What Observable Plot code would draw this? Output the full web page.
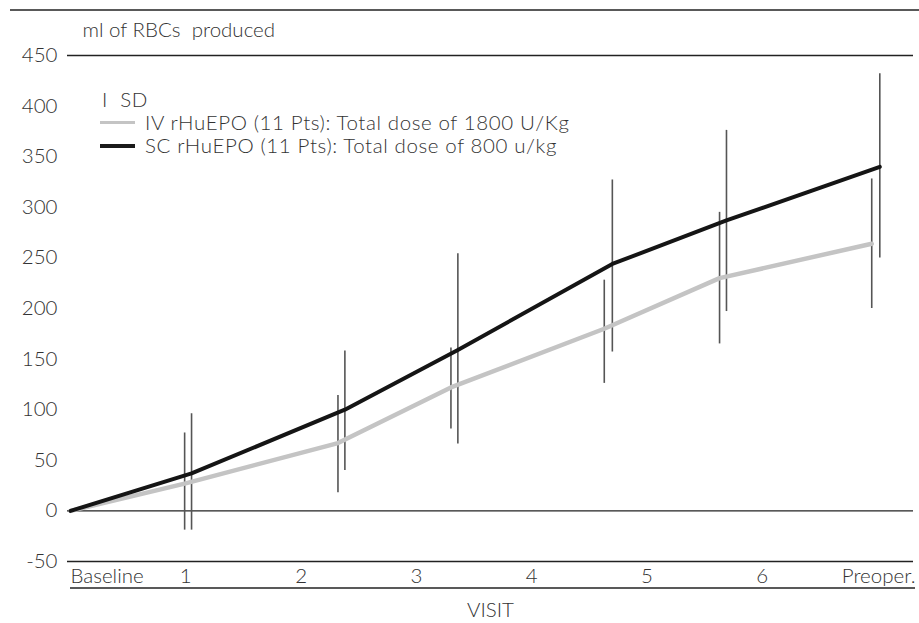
<!DOCTYPE html>
<html>
<head>
<meta charset="utf-8">
<script src="https://cdn.jsdelivr.net/npm/d3@7"></script>
<script src="https://cdn.jsdelivr.net/npm/@observablehq/plot@0.6"></script>
<style>
  html, body { margin: 0; padding: 0; background: #fff; }
  #wrap { position: relative; width: 919px; height: 623px; font-family: Lato, "Open Sans", sans-serif; font-weight: 300; color: #333; }
  #legend { position: absolute; left: 100px; top: 88px; font-size: 20.5px; line-height: 23px; letter-spacing: 0.6px; }
  #legend .row { display: flex; align-items: center; white-space: nowrap; height: 23px; }
  #legend .sw { width: 35px; height: 0; margin-right: 10px; }
  #legend .sd { margin-left: 2px; }
</style>
</head>
<body>
<div id="wrap">
  <div id="legend">
    <div class="row"><span class="sd">I&nbsp;&nbsp;SD</span></div>
    <div class="row"><span class="sw" style="border-top:3px solid #c4c4c4"></span><span>IV rHuEPO (11 Pts): Total dose of 1800 U/Kg</span></div>
    <div class="row"><span class="sw" style="border-top:4px solid #1a1a1a"></span><span>SC rHuEPO (11 Pts): Total dose of 800 u/kg</span></div>
  </div>
</div>
<script>
// Visit axis
const visitTicks = [0, 1, 2, 3, 4, 5, 6, 7];
const visitLabels = ["Baseline", "1", "2", "3", "4", "5", "6", "Preoper."];
const yTicks = [-50, 0, 50, 100, 150, 200, 250, 300, 350, 400, 450];
const gridValues = [450, 0, -50];

// IV rHuEPO series (ml of RBCs produced), with ±1 SD ends
const ivX    = [0, 0.99, 2.32, 3.30, 4.63, 5.63, 6.95];
const ivMean = [0, 27, 67, 122, 180, 230, 264];
const ivLow  = [null, -19, 18, 81, 126, 165, 200];
const ivHigh = [null, 77, 114, 161, 228, 295, 328];

// SC rHuEPO series
const scX    = [0, 1.05, 2.38, 3.36, 4.70, 5.69, 7.02];
const scMean = [0, 37, 100, 159, 244, 287, 340];
const scLow  = [null, -19, 40, 66, 157, 197, 250];
const scHigh = [null, 96, 158, 254, 327, 376, 432];

const iv = ivX.map((x, i) => ({x, y: ivMean[i], lo: ivLow[i], hi: ivHigh[i]}));
const sc = scX.map((x, i) => ({x, y: scMean[i], lo: scLow[i], hi: scHigh[i]}));
const ticks = visitTicks.map((t, i) => ({t, label: visitLabels[i], i}));
const last = visitTicks.length - 1;

const chart = Plot.plot({
  width: 919,
  height: 623,
  marginTop: 55,
  marginBottom: 62,
  marginLeft: 67,
  marginRight: 6,
  style: {fontFamily: "Lato, 'Open Sans', sans-serif", fontSize: "20.5px", color: "#333", fontWeight: 300},
  x: {domain: [0, 7], range: [70, 877], axis: null},
  y: {domain: [-50, 450]},
  marks: [
    Plot.ruleY(gridValues, {stroke: "#222", strokeWidth: 1.3}),
    Plot.axisY(yTicks, {tickSize: 0, tickPadding: 10, label: null, fill: "#333", tickFormat: d => String(d)}),
    Plot.ruleX(iv.filter(d => d.lo != null), {x: "x", y1: "lo", y2: "hi", stroke: "#555", strokeWidth: 1.6}),
    Plot.ruleX(sc.filter(d => d.lo != null), {x: "x", y1: "lo", y2: "hi", stroke: "#555", strokeWidth: 1.6}),
    Plot.line(iv, {x: "x", y: "y", stroke: "#c4c4c4", strokeWidth: 4.5}),
    Plot.line(sc, {x: "x", y: "y", stroke: "#151515", strokeWidth: 4}),
    Plot.text(ticks.filter(d => d.i === 0), {x: "t", text: "label", frameAnchor: "bottom", dy: 15, textAnchor: "start", lineAnchor: "middle", fill: "#333"}),
    Plot.text(ticks.filter(d => d.i > 0 && d.i < last), {x: "t", text: "label", frameAnchor: "bottom", dy: 15, lineAnchor: "middle", fill: "#333"}),
    Plot.text(ticks.filter(d => d.i === last), {x: "t", text: "label", frameAnchor: "bottom", dy: 15, dx: 38, textAnchor: "end", lineAnchor: "middle", fill: "#333"}),
    Plot.text(["VISIT"], {frameAnchor: "bottom", dy: 49, lineAnchor: "middle", fill: "#333"}),
    Plot.text(["ml of RBCs  produced"], {frameAnchor: "top-left", dx: 15, dy: -25, lineAnchor: "middle", textAnchor: "start", fill: "#333"})
  ]
});

// decorative frame rules above and below the chart
const svg = d3.select(chart);
svg.append("line").attr("x1", 10).attr("x2", 919).attr("y1", 10).attr("y2", 10).attr("stroke", "#222").attr("stroke-width", 1.5);
svg.append("line").attr("x1", 70).attr("x2", 915).attr("y1", 588).attr("y2", 588).attr("stroke", "#222").attr("stroke-width", 1.3);

document.getElementById("wrap").prepend(chart);
</script>
</body>
</html>
